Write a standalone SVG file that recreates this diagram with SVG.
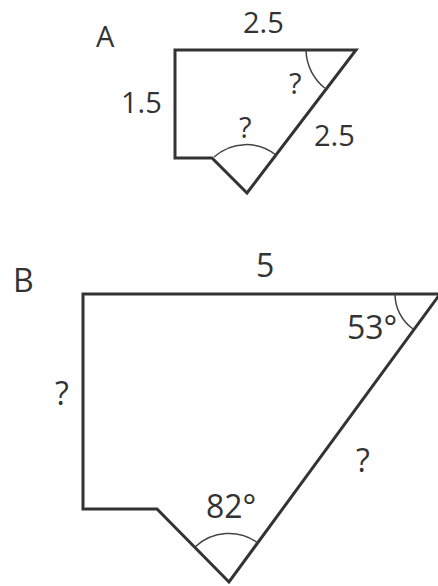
<svg xmlns="http://www.w3.org/2000/svg" width="438" height="586" viewBox="0 0 438 586">
<style>
.shape{fill:none;stroke:#333;stroke-width:3;stroke-linejoin:miter}
.arc{fill:none;stroke:#444;stroke-width:1.5}
text{font-family:"Open Sans","Noto Sans",sans-serif;fill:#333}
.a{font-size:29px}
.b{font-size:32px}
</style>
<rect width="438" height="586" fill="#fff"/>
<g id="shapeA">
<path class="shape" d="M175,50 L356,50 L247,193 L212,158 L175,158 Z"/>
<path class="arc" d="M306,50 A50,50 0 0 0 326,89"/>
<path class="arc" d="M214,157 A48,48 0 0 1 276,155"/>
<text class="a" x="96" y="47">A</text>
<text class="a" x="243" y="33">2.5</text>
<text class="a" x="121" y="113">1.5</text>
<text class="a" x="289" y="94">?</text>
<text class="a" x="239" y="138">?</text>
<text class="a" x="314" y="146">2.5</text>
</g>
<g id="shapeB">
<path class="shape" d="M83,294 L440,294 L229,582 L157,509 L83,509 Z"/>
<path class="arc" d="M395,294 A43,43 0 0 0 413,329"/>
<path class="arc" d="M195,547 A49,49 0 0 1 258,543"/>
<text class="b" x="13" y="292">B</text>
<text class="b" x="256" y="277">5</text>
<text class="b" x="347" y="339">53°</text>
<text class="b" x="55" y="405">?</text>
<text class="b" x="356" y="472">?</text>
<text class="b" x="206" y="518">82°</text>
</g>
</svg>
